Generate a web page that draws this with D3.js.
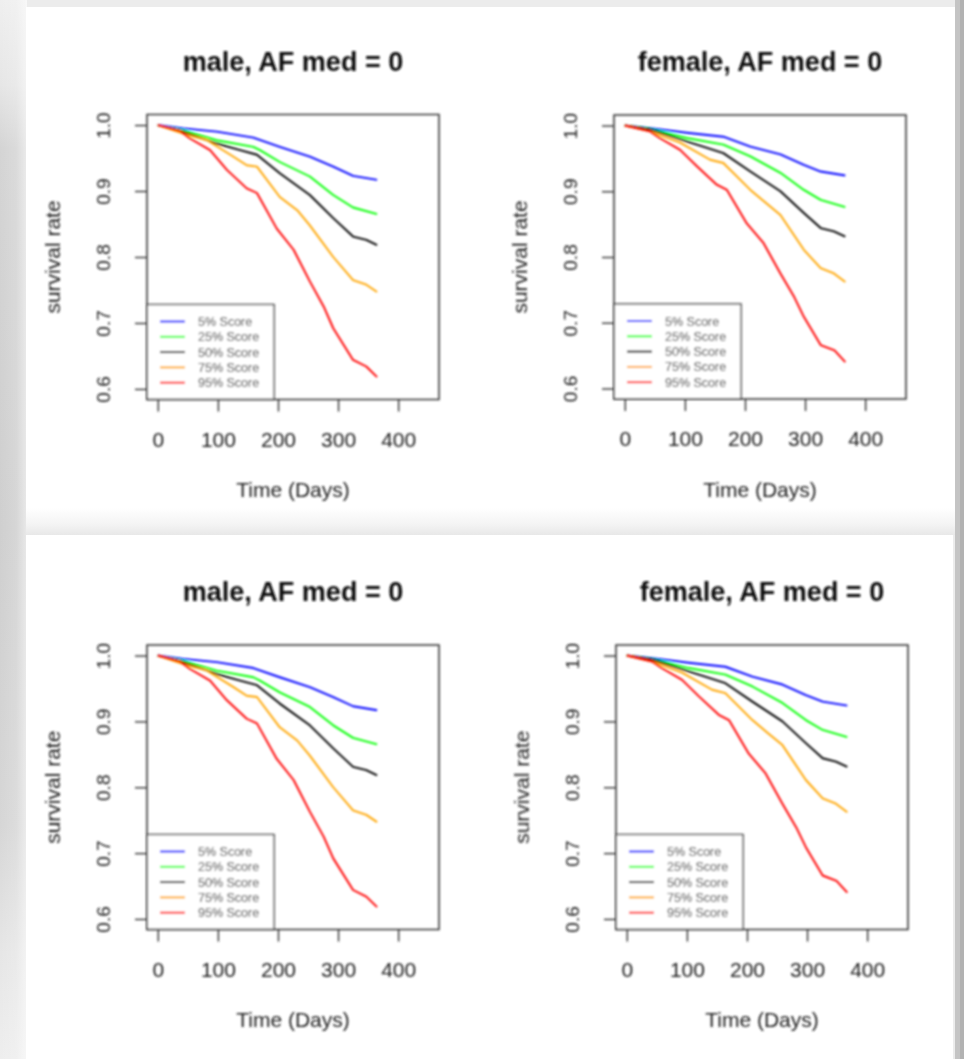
<!DOCTYPE html>
<html>
<head>
<meta charset="utf-8">
<script src="https://cdn.jsdelivr.net/npm/d3@7/dist/d3.min.js"></script>
<style>
  html, body { margin: 0; padding: 0; background: #ececec; }
  svg { display: block; }
  text { font-family: "Liberation Sans", Arial, Helvetica, sans-serif; }
</style>
</head>
<body>
<svg id="chart" width="964" height="1059"></svg>
<script>
// ---------------- DATA ----------------
const panelTitles = ["male, AF med = 0", "female, AF med = 0", "male, AF med = 0", "female, AF med = 0"];
const seriesNames = ["5% Score", "25% Score", "50% Score", "75% Score", "95% Score"];
const seriesColors = ["#0000ff", "#00ff00", "#000000", "#ffa500", "#ff0000"];
const xTickValues = [0, 100, 200, 300, 400];
const yTickValues = [0.6, 0.7, 0.8, 0.9, 1.0];
const xLabel = "Time (Days)";
const yLabel = "survival rate";

// male curves: [day, survival]
const male5  = [[0,1.0],[42,0.995],[98,0.990],[159,0.981],[203,0.967],[253,0.952],[292,0.937],[325,0.923],[365,0.917]];
const male25 = [[0,1.0],[42,0.992],[98,0.977],[159,0.967],[170,0.962],[203,0.944],[253,0.922],[292,0.894],[325,0.875],[365,0.865]];
const male50 = [[0,1.0],[42,0.990],[98,0.972],[137,0.962],[165,0.955],[203,0.927],[253,0.894],[292,0.859],[325,0.831],[347,0.826],[365,0.818]];
const male75 = [[0,1.0],[42,0.987],[82,0.977],[126,0.952],[148,0.939],[165,0.937],[203,0.891],[232,0.871],[253,0.848],[292,0.800],[325,0.765],[347,0.758],[365,0.747]];
const male95 = [[0,1.0],[37,0.991],[53,0.980],[87,0.962],[115,0.932],[148,0.904],[165,0.897],[198,0.843],[226,0.811],[253,0.763],[276,0.725],[292,0.692],[325,0.644],[347,0.634],[365,0.618]];

// female curves
const female5  = [[0,1.0],[42,0.996],[103,0.989],[164,0.983],[209,0.968],[259,0.956],[298,0.940],[326,0.930],[367,0.924]];
const female25 = [[0,1.0],[42,0.995],[103,0.981],[164,0.971],[209,0.953],[259,0.928],[298,0.902],[326,0.887],[367,0.876]];
const female50 = [[0,1.0],[42,0.994],[103,0.976],[164,0.958],[209,0.930],[259,0.900],[298,0.867],[326,0.844],[348,0.839],[367,0.831]];
const female75 = [[0,1.0],[42,0.991],[92,0.974],[142,0.948],[164,0.943],[209,0.902],[235,0.882],[259,0.864],[298,0.811],[326,0.783],[348,0.775],[367,0.762]];
const female95 = [[0,1.0],[42,0.991],[58,0.981],[92,0.963],[120,0.938],[153,0.910],[170,0.902],[203,0.851],[231,0.821],[259,0.775],[282,0.739],[298,0.709],[326,0.666],[349,0.658],[367,0.640]];

const maleSeries = [male5, male25, male50, male75, male95];
const femaleSeries = [female5, female25, female50, female75, female95];
const panelSeries = [maleSeries, femaleSeries, maleSeries, femaleSeries];

// ---------------- LAYOUT ----------------
const panels = [
  {left: 147, right: 439, top: 114.5, bottom: 399.5},
  {left: 614, right: 906, top: 115,   bottom: 399},
  {left: 147, right: 439, top: 645,   bottom: 929.5},
  {left: 616, right: 908, top: 645,   bottom: 929.5}
];

const svg = d3.select("#chart");
const defs = svg.append("defs");

// background window frames
const lg = defs.append("linearGradient").attr("id", "leftStrip").attr("x1", 0).attr("y1", 0).attr("x2", 0).attr("y2", 1);
[[0, "#efefef"], [0.08, "#e6e6e6"], [0.14, "#d4d4d4"], [0.5, "#cfcfcf"], [0.78, "#d6d6d6"], [0.9, "#e6e6e6"], [1, "#eeeeee"]]
  .forEach(([o, c]) => lg.append("stop").attr("offset", o).attr("stop-color", c));
const lh = defs.append("linearGradient").attr("id", "leftFade").attr("x1", 0).attr("y1", 0).attr("x2", 1).attr("y2", 0);
[[0, "#ffffff", 0.0], [0.6, "#ffffff", 0.15], [1, "#ffffff", 0.55]]
  .forEach(([o, c, a]) => lh.append("stop").attr("offset", o).attr("stop-color", c).attr("stop-opacity", a));
const sh = defs.append("linearGradient").attr("id", "bottomShade").attr("x1", 0).attr("y1", 0).attr("x2", 0).attr("y2", 1);
[[0, "#ffffff"], [0.6, "#f4f4f4"], [1, "#e8e8e8"]]
  .forEach(([o, c]) => sh.append("stop").attr("offset", o).attr("stop-color", c));
const blur = defs.append("filter").attr("id", "soft")
  .attr("filterUnits", "userSpaceOnUse").attr("x", 0).attr("y", 0).attr("width", 964).attr("height", 1059);
blur.append("feGaussianBlur").attr("stdDeviation", 0.8);

const bg = svg.append("g");
bg.append("rect").attr("x", 0).attr("y", 0).attr("width", 964).attr("height", 1059).attr("fill", "#ececec");
bg.append("rect").attr("x", 0).attr("y", 0).attr("width", 27).attr("height", 1059).attr("fill", "url(#leftStrip)");
bg.append("rect").attr("x", 0).attr("y", 0).attr("width", 27).attr("height", 1059).attr("fill", "url(#leftFade)");
bg.append("rect").attr("x", 955).attr("y", 0).attr("width", 9).attr("height", 1059).attr("fill", "#c4c4c4");
bg.append("rect").attr("x", 960).attr("y", 0).attr("width", 4).attr("height", 1059).attr("fill", "#b2b2b2");
// top window
bg.append("rect").attr("x", 26).attr("y", 7).attr("width", 929).attr("height", 528).attr("fill", "#ffffff");
bg.append("rect").attr("x", 26).attr("y", 508).attr("width", 929).attr("height", 27).attr("fill", "url(#bottomShade)");
// bottom window
bg.append("rect").attr("x", 26).attr("y", 535).attr("width", 927).attr("height", 524).attr("fill", "#ffffff");

const root = svg.append("g").attr("filter", "url(#soft)");

panels.forEach((p, i) => {
  const g = root.append("g");
  const x = d3.scaleLinear().domain([-18, 468]).range([p.left, p.right]);
  const y = d3.scaleLinear().domain([0.584, 1.016]).range([p.bottom, p.top]);

  // x axis
  const xa = g.append("g").attr("transform", `translate(0,${p.bottom})`)
    .call(d3.axisBottom(x).tickValues(xTickValues).tickSize(12).tickSizeOuter(0).tickFormat(d3.format("d")));
  xa.select(".domain").remove();
  xa.selectAll(".tick line").attr("stroke", "#333").attr("stroke-width", 1.4);
  xa.selectAll(".tick text").attr("y", 47).attr("dy", 0).attr("fill", "#222")
    .style("font-size", "21px");

  // y axis
  const ya = g.append("g").attr("transform", `translate(${p.left},0)`)
    .call(d3.axisLeft(y).tickValues(yTickValues).tickSize(12).tickSizeOuter(0).tickFormat(d3.format(".1f")));
  ya.select(".domain").remove();
  ya.selectAll(".tick line").attr("stroke", "#333").attr("stroke-width", 1.4);
  ya.selectAll(".tick text").attr("x", null).attr("dy", null).attr("y", null)
    .attr("text-anchor", "middle")
    .attr("transform", "translate(-37,0) rotate(-90)")
    .attr("fill", "#222")
    .style("font-size", "19px");

  // curves
  const line = d3.line().x(d => x(d[0])).y(d => y(d[1]));
  const clip = "clip" + i;
  defs.append("clipPath").attr("id", clip).append("rect")
    .attr("x", p.left).attr("y", p.top).attr("width", p.right - p.left).attr("height", p.bottom - p.top);
  const curves = g.append("g").attr("clip-path", `url(#${clip})`);
  panelSeries[i].forEach((s, k) => {
    curves.append("path").datum(s).attr("d", line)
      .attr("fill", "none").attr("stroke", seriesColors[k]).attr("stroke-width", 1.9)
      .attr("stroke-linejoin", "round");
  });

  // legend
  const lgW = 127, lgH = 95;
  const leg = g.append("g").attr("transform", `translate(${p.left},${p.bottom - lgH})`);
  leg.append("rect").attr("x", 0).attr("y", 0).attr("width", lgW).attr("height", lgH)
    .attr("fill", "#ffffff").attr("stroke", "#333").attr("stroke-width", 1.4);
  seriesNames.forEach((name, k) => {
    const ry = 17 + k * 15.3;
    leg.append("line").attr("x1", 13).attr("x2", 38).attr("y1", ry).attr("y2", ry)
      .attr("stroke", seriesColors[k]).attr("stroke-width", 1.9);
    leg.append("text").attr("x", 51).attr("y", ry + 4.5).text(name)
      .attr("fill", "#333").style("font-size", "12.5px");
  });

  // box
  g.append("rect").attr("x", p.left).attr("y", p.top)
    .attr("width", p.right - p.left).attr("height", p.bottom - p.top)
    .attr("fill", "none").attr("stroke", "#333").attr("stroke-width", 1.5);

  // titles and labels
  const cx = (p.left + p.right) / 2;
  g.append("text").attr("x", cx).attr("y", p.top - 44).attr("text-anchor", "middle")
    .style("font-size", "27px").style("font-weight", "bold").attr("fill", "#111").text(panelTitles[i]);
  g.append("text").attr("x", cx).attr("y", p.bottom + 97.5).attr("text-anchor", "middle")
    .style("font-size", "21px").attr("fill", "#222").text(xLabel);
  const cy = (p.top + p.bottom) / 2;
  g.append("text").attr("transform", `translate(${p.left - 87},${cy}) rotate(-90)`)
    .attr("text-anchor", "middle").style("font-size", "21px").attr("fill", "#222").text(yLabel);
});
</script>
</body>
</html>
